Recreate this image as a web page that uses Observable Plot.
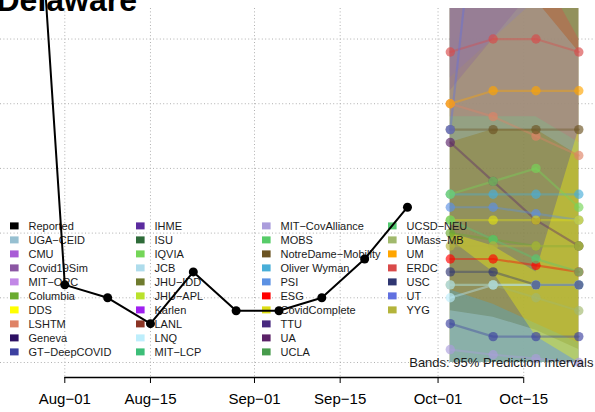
<!DOCTYPE html>
<html><head><meta charset="utf-8">
<script src="https://cdn.jsdelivr.net/npm/d3@7"></script>
<script src="https://cdn.jsdelivr.net/npm/@observablehq/plot@0.6"></script>
<style>
html,body{margin:0;padding:0;background:#fff;overflow:hidden}
#chart svg{display:block}
</style></head><body><div id="chart"></div>
<script>
const FONT = "'Liberation Sans', Arial, Helvetica, sans-serif";
const title = "Delaware";
const bandNote = "Bands: 95% Prediction Intervals";

// Reported weekly values
const reportedDates = ["2020-07-25","2020-08-01","2020-08-08","2020-08-15","2020-08-22","2020-08-29","2020-09-05","2020-09-12","2020-09-19","2020-09-26"];
const reportedValues = [56, 6, 5, 3, 7, 4, 4, 5, 8, 12];

// Forecast target weeks
const forecastDates = ["2020-10-03","2020-10-10","2020-10-17","2020-10-24"];

// Legend (order as shown)
const legendNames = ["Reported","UGA\u2212CEID","CMU","Covid19Sim","MIT\u2212ORC","Columbia","DDS","LSHTM","Geneva","GT\u2212DeepCOVID",
  "IHME","ISU","IQVIA","JCB","JHU\u2212IDD","JHU\u2212APL","Karlen","LANL","LNQ","MIT\u2212LCP",
  "MIT\u2212CovAlliance","MOBS","NotreDame\u2212Mobility","Oliver Wyman","PSI","ESG","CovidComplete","TTU","UA","UCLA",
  "UCSD\u2212NEU","UMass\u2212MB","UM","ERDC","USC","UT","YYG"];
const legendColors = ["#000000","#97c0d1","#a95bd6","#8b56a3","#c287e6","#6aab2f","#ffff00","#df8366","#2d1063","#3c40a0",
  "#5b2b9f","#2e6b39","#74d658","#aedcec","#6f7b2e","#bae22c","#a020f0","#8a3424","#bdeefc","#3cbe78",
  "#ab9ddc","#57cc69","#6b5322","#48aed8","#5c91e3","#ff0000","#dede15","#48297f","#5b2268","#479b4b",
  "#55c972","#a1b96d","#ffa500","#d94a4a","#2f3671","#6070e0","#b4b43b"];

// Point forecasts (drawing order)
const pointModels = ["LSHTM","UM","ERDC","NotreDame\u2212Mobility","UT","UA","Oliver Wyman","IQVIA","PSI","Columbia",
  "CovidComplete","ESG","UCSD\u2212NEU","YYG","LNQ","UMass\u2212MB","JCB","USC","GT\u2212DeepCOVID","MIT\u2212CovAlliance"];
const pointValues = [
  [20, 19, 17.5, 16],
  [20, 21, 21, 21],
  [24, 25, 25, 24],
  [18, 18, 18, 18],
  [18, 48, 75, 100],
  [17, 14, 11, 9],
  [13, 13, 13, 13],
  [13, 14, 15, 12],
  [12, 12, 11.5, 11],
  [10, 9.5, 9, 9],
  [11, 11, 11, 11],
  [8, 8, 7.5, 7],
  [11, 9.5, 8, 7],
  [9, 9, 9, 9],
  [5, 6, 6, 6],
  [6, 6, 5, 4],
  [6, 6, 6, 6],
  [7, 7, 6, 6],
  [3, 2, 2, 2],
  [1, 0.6, 0.3, 0]
];

// 95% prediction bands (drawing order)
const bandModels = ["CovidComplete","Covid19Sim","JHU\u2212IDD","UCLA","LANL","UMass\u2212MB",
  "UT","IHME","ERDC","UGA\u2212CEID","Oliver Wyman","JCB","DDS"];
const bandLower = [
  [0, 0, 0, 0], [0, 0, 0, 0], [0, 0, 0, 0], [0, 0, 0, 0], [0, 0, 0, 0], [0, 0, 0, 0],
  [22, 25, 28, 35],
  [21, 25, 29, 36],
  [19, 19, 19, 17],
  [17, 18, 18, 16],
  [0, 0, 0, 0],
  [0, 0, 0, 0],
  [9.5, 7, 2, 0]
];
const bandUpper = [
  [35, 40, 45, 50], [45, 45, 45, 45], [40, 45, 50, 55], [35, 40, 45, 50], [40, 45, 50, 55], [35, 40, 45, 50],
  [60, 90, 120, 150],
  [45, 60, 80, 100],
  [30, 32, 31, 25],
  [28, 30, 28, 24],
  [5.6, 4.5, 3, 1.5],
  [4, 3.5, 2.5, 1],
  [10, 9, 7, 18]
];

// Axis ticks and grid
const tickDates = ["2020-08-01","2020-08-15","2020-09-01","2020-09-15","2020-10-01","2020-10-15"];
const gridValues = [0, 5, 10, 15, 20, 25];

const parse = s => new Date(s + "T00:00:00Z");
const reported = reportedDates.map((d, i) => ({date: parse(d), value: reportedValues[i]}));
const points = pointModels.flatMap((m, j) => forecastDates.map((d, i) => ({model: m, date: parse(d), value: pointValues[j][i]})));
const bands = bandModels.flatMap((m, j) => forecastDates.map((d, i) => ({model: m, date: parse(d), lower: bandLower[j][i], upper: bandUpper[j][i]})));
const ticks = tickDates.map(parse);
const yMin = -1.16;

const legendMark = (index, scales) => {
  const g = d3.create("svg:g").attr("font-family", FONT).attr("font-size", 11)
    .attr("fill", "#1a1a1a").attr("text-anchor", "start");
  legendNames.forEach((name, i) => {
    const col = Math.floor(i / 10), row = i % 10;
    const x = 10 + col * 126, y = 226 + row * 14;
    g.append("rect").attr("x", x).attr("y", y - 3.6).attr("width", 8.6).attr("height", 7).attr("fill", scales.color(name));
    g.append("text").attr("x", x + 18.5).attr("y", y).attr("dy", "0.35em").text(name);
  });
  return g.node();
};

const chart = Plot.plot({
  width: 595, height: 412,
  marginTop: 8, marginBottom: 35, marginLeft: 0, marginRight: 0,
  style: {fontFamily: FONT, fontSize: "15px", background: "white", color: "black"},
  x: {type: "utc", domain: [parse("2020-08-01"), parse("2020-10-24")], range: [64.3, 578.3],
      ticks: ticks, tickFormat: d => d3.utcFormat("%b-%d")(d).replace("-", "\u2212"),
      tickSize: 6, tickPadding: 10, label: null},
  y: {domain: [yMin, 27.36], axis: null},
  color: {domain: legendNames, range: legendColors},
  marks: [
    Plot.ruleY(gridValues, {stroke: "#b0b0b0", strokeDasharray: "1,2.4"}),
    Plot.ruleX(ticks, {stroke: "#b0b0b0", strokeDasharray: "1,2.4"}),
    Plot.areaY(bands, {x: "date", y1: "lower", y2: "upper", z: "model", fill: "model", fillOpacity: 0.34, clip: true}),
    Plot.line(points, {x: "date", y: "value", z: "model", stroke: "model", strokeWidth: 2.2, strokeOpacity: 0.4, clip: true}),
    Plot.dot(points, {x: "date", y: "value", fill: "model", r: 4.7, fillOpacity: 0.65, clip: true}),
    legendMark,
    Plot.text([bandNote], {text: d => d, frameAnchor: "bottom-right", textAnchor: "end", lineAnchor: "bottom", dx: -2, dy: -11, fontSize: 13, fill: "#1a1a1a"}),
    Plot.line(reported, {x: "date", y: "value", stroke: "black", strokeWidth: 2}),
    Plot.dot(reported, {x: "date", y: "value", fill: "black", r: 4.5}),
    Plot.ruleY([yMin], {x1: () => ticks[0], x2: () => ticks[ticks.length - 1], stroke: "black", strokeWidth: 1.3}),
    Plot.text([title], {text: d => d, frameAnchor: "top-left", textAnchor: "start", lineAnchor: "bottom", dx: -4, dy: 2, fontSize: 32, fontWeight: "bold", fill: "black"})
  ]
});
document.getElementById("chart").appendChild(chart);
</script></body></html>
